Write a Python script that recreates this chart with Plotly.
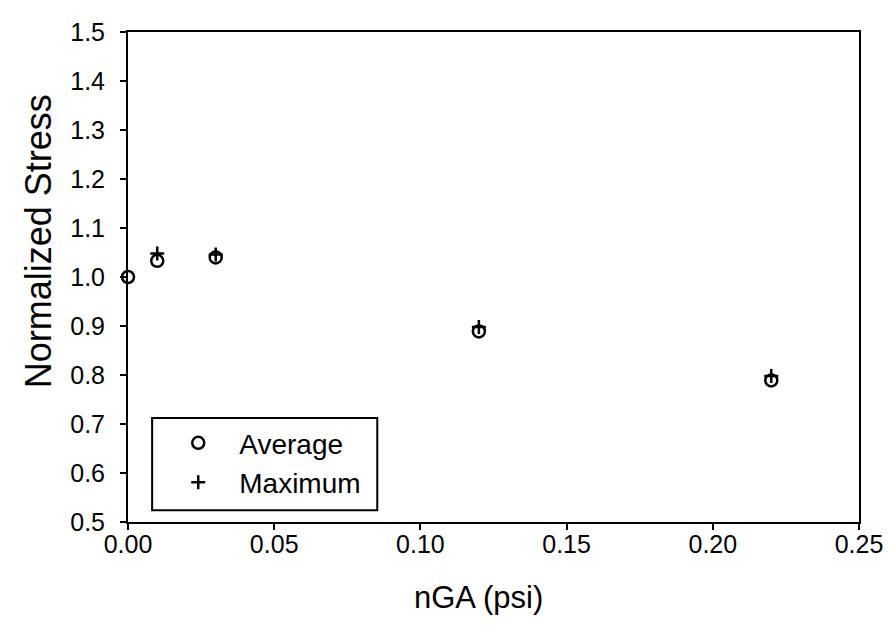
import plotly.graph_objects as go

# values
nga_avg = [0.00, 0.01, 0.03, 0.12, 0.22]
stress_avg = [1.00, 1.033, 1.04, 0.889, 0.789]

nga_max = [0.01, 0.03, 0.12, 0.22]
stress_max = [1.048, 1.046, 0.898, 0.798]

x_ticks = [0.00, 0.05, 0.10, 0.15, 0.20, 0.25]
y_ticks = [0.5, 0.6, 0.7, 0.8, 0.9, 1.0, 1.1, 1.2, 1.3, 1.4, 1.5]

font_family = "Liberation Sans, Arial, sans-serif"

fig = go.Figure()

fig.add_trace(
    go.Scatter(
        x=nga_avg,
        y=stress_avg,
        mode='markers',
        name="Average",
        legendgroup='avg',
        cliponaxis=False,
        marker=dict(symbol='circle-open', size=12, color='black',
                    line=dict(width=2.5, color='black'))
    )
)

fig.add_trace(
    go.Scatter(
        x=nga_max,
        y=stress_max,
        mode='markers',
        name="Maximum",
        legendgroup='max',
        cliponaxis=False,
        marker=dict(symbol='cross-thin-open', size=10, color='black',
                    line=dict(width=2.5, color='black'))
    )
)

axis_style = dict(
    showgrid=False,
    zeroline=False,
    showline=True,
    linecolor='black',
    linewidth=2,
    mirror=True,
    ticks='outside',
    ticklen=6,
    tickwidth=1.5,
    tickcolor='black',
    ticklabeloverflow='allow',
    tickfont=dict(size=25, color='black', family=font_family),
)

fig.update_xaxes(
    range=[0, 0.25],
    tickvals=x_ticks,
    ticktext=["{:.2f}".format(v) for v in x_ticks],
    ticklabelstandoff=-7,
    **axis_style
)

fig.update_yaxes(
    range=[0.5, 1.5],
    tickvals=y_ticks,
    ticktext=["{:.1f}".format(v) for v in y_ticks],
    ticklabelstandoff=10,
    **axis_style
)

# axis titles placed as annotations (they sit off-centre in the original)
fig.add_annotation(
    text="Normalized Stress", xref='paper', yref='paper',
    x=-0.123, y=0.573, xanchor='center', yanchor='middle',
    textangle=-90, showarrow=False,
    font=dict(size=36, color='black', family=font_family)
)
fig.add_annotation(
    text="nGA (psi)", xref='paper', yref='paper',
    x=0.48, y=-0.155, xanchor='center', yanchor='middle',
    showarrow=False,
    font=dict(size=31, color='black', family=font_family)
)

# legend frame
fig.add_shape(
    type='rect', xref='paper', yref='paper',
    x0=0.033, x1=0.341, y0=0.024, y1=0.212,
    line=dict(color='black', width=2),
    fillcolor='white', opacity=1, layer='above'
)

fig.update_layout(
    width=892,
    height=639,
    template='simple_white',
    plot_bgcolor='white',
    paper_bgcolor='white',
    font=dict(family=font_family, color='black'),
    margin=dict(l=120, r=41, t=10, b=125),
    showlegend=True,
    legend=dict(
        x=0.040,
        y=0.212,
        xanchor='left',
        yanchor='top',
        borderwidth=0,
        bgcolor='rgba(0,0,0,0)',
        font=dict(size=28, color='black', family=font_family),
        itemwidth=72,
        tracegroupgap=0,
    )
)

fig.write_html("out.html")
